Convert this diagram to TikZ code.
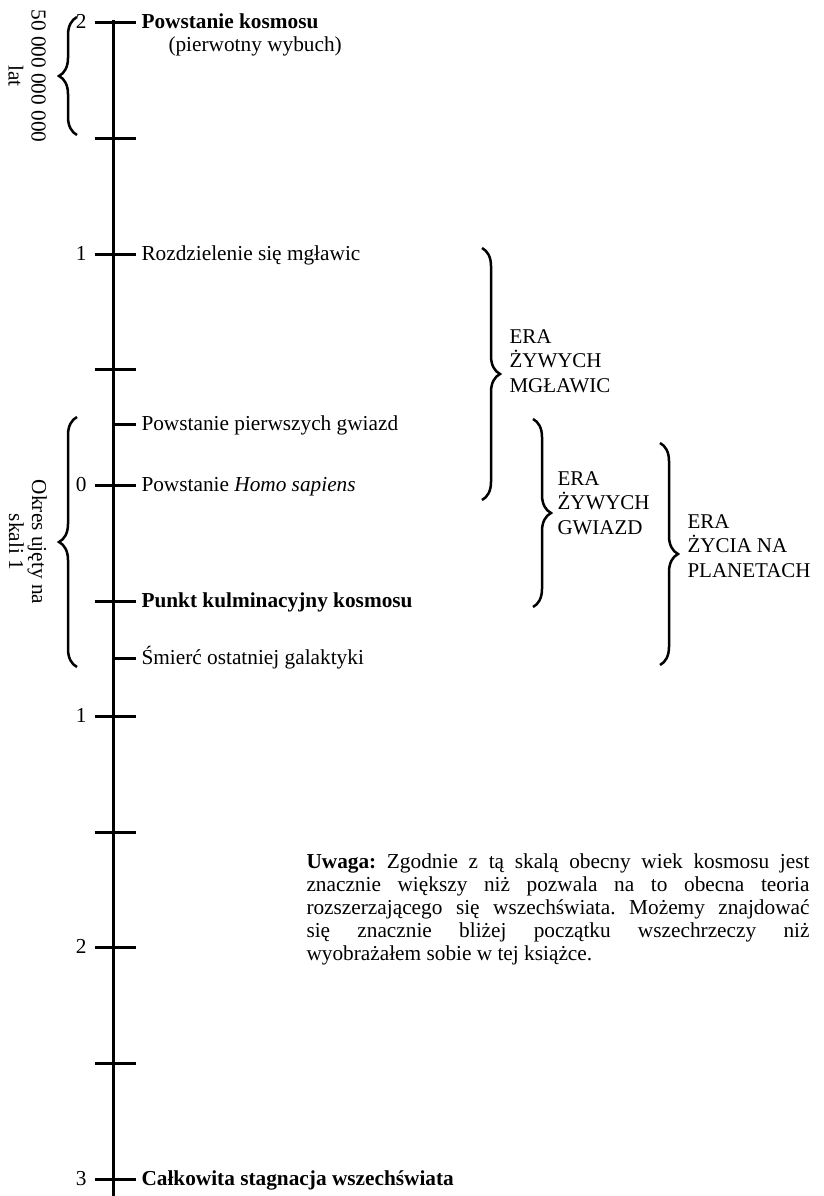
\documentclass[tikz,border=0pt]{standalone}
\usepackage{fontspec}
\setmainfont{Liberation Serif}
\usetikzlibrary{decorations.pathreplacing}
\frenchspacing
\tikzset{
lbl/.style={anchor=base west,inner sep=0pt},
num/.style={anchor=base east,inner sep=0pt},
era/.style={anchor=base west,inner sep=0pt,align=left,font=\fontsize{21}{24.5}\selectfont},
brc/.style={decorate,decoration={brace,amplitude=18pt},line width=2.5pt},
}
\begin{document}
\begin{tikzpicture}[x=1pt,y=-1pt,line width=3pt,font=\fontsize{21.3}{23}\selectfont]
\useasboundingbox(0,0)rectangle(823,1196);
\pgfmathsetmacro{\tstep}{115.6}
\pgfmathsetmacro{\ttop}{23}
\pgfmathsetmacro{\tx}{113.5}
\draw(\tx,20)--(\tx,1196);
\foreach \k in {0,...,10}{\draw(\tx-19,\ttop+\k*\tstep)coordinate(t\k)--++(41,0);}
\foreach \hy/\hn in {424/h1,658/h2}{\draw(\tx,\hy)coordinate(\hn)--++(22,0);}
\foreach \k/\nlb in {0/2,2/1,4/0,6/1,8/2,10/3}{\node[num](n\k)at(88,\ttop+\k*\tstep+6){\nlb};}
\node[lbl](bigbang)at(140,\ttop+6){\textbf{Powstanie kosmosu}};
\node[lbl](bigbangsub)at(167,\ttop+29){(pierwotny wybuch)};
\foreach \ly/\llb/\lnm in {254.2/{Rozdzielenie się mgławic}/nebulae,424/{Powstanie pierwszych gwiazd}/stars,485.4/{Powstanie \emph{Homo sapiens}}/homo,601/{\textbf{Punkt kulminacyjny kosmosu}}/peak,658/{Śmierć ostatniej galaktyki}/death,1179/{\textbf{Całkowita stagnacja wszechświata}}/stagnation}{\node[lbl](\lnm)at(140,\ly+6){\llb};}
\draw[brc](77,135)--(77,17);
\node[rotate=-90,align=center,inner sep=0pt](years)at(27,76){50 000 000 000\\lat};
\draw[brc](77,667)--(77,417);
\node[rotate=-90,align=center,inner sep=0pt](scale)at(28,542){Okres ujęty na\\skali 1};
\draw[brc](482,248)--(482,500);
\node[era](eraneb)at(508,392){ERA\\ŻYWYCH\\MGŁAWIC};
\draw[brc](533,419)--(533,607);
\node[era](erastar)at(556,534){ERA\\ŻYWYCH\\GWIAZD};
\draw[brc](660,443)--(660,665);
\node[era](eralife)at(686,577){ERA\\ŻYCIA NA\\PLANETACH};
\node[anchor=base west,inner sep=0pt,text width=503pt,align=justify](note)at(305,868){\textbf{Uwaga:} Zgodnie z tą skalą obecny wiek kosmosu jest\linebreak znacznie większy niż pozwala na to obecna teoria\linebreak rozszerzającego się wszechświata. Możemy znajdować\linebreak się znacznie bliżej początku wszechrzeczy niż\linebreak wyobrażałem sobie w tej książce.};
\end{tikzpicture}
\end{document}
